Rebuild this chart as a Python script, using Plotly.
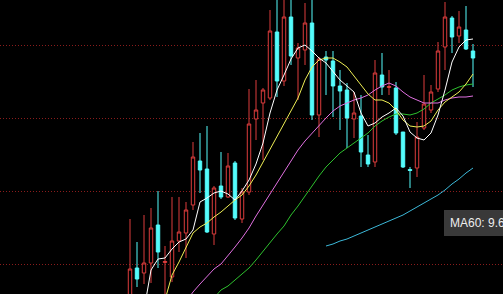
import plotly.graph_objects as go

# ---- data ----
idx = list(range(50))

open_ = [8.64, 8.96, 8.91, 9.01, 9.39, 9.015, 8.87, 9.23, 9.31, 9.59,
         10.03, 9.95, 9.30, 9.78, 9.67, 10.01, 9.45, 9.72, 10.45, 10.61,
         10.66, 11.32, 10.83, 11.47, 11.06, 11.14, 11.41, 10.49, 11.07, 11.03,
         10.78, 10.74, 10.45, 10.48, 10.09, 10.02, 10.89, 10.765, 10.76, 10.32,
         9.945, 9.96, 10.36, 10.54, 10.75, 11.17, 11.46, 11.28, 11.34, 11.13]
high = [9.45, 9.22, 9.49, 9.56, 9.73, 9.18, 9.67, 9.67, 9.62, 10.22,
        10.31, 10.38, 9.78, 10.12, 10.11, 10.03, 9.76, 10.75, 10.84, 10.76,
        11.54, 11.69, 11.69, 11.69, 11.21, 11.61, 11.67, 11.07, 11.13, 11.13,
        10.94, 10.81, 10.72, 10.69, 10.29, 11.04, 11.11, 10.94, 10.82, 10.32,
        9.97, 10.42, 10.89, 10.79, 11.22, 11.62, 11.48, 11.53, 11.58, 11.20]
low = [8.58, 8.77, 8.80, 8.81, 8.96, 8.64, 8.82, 9.12, 9.06, 9.54,
       9.71, 9.31, 9.19, 9.65, 9.66, 9.44, 9.41, 9.69, 10.24, 10.04,
       10.64, 10.67, 10.78, 10.99, 10.64, 10.99, 10.44, 10.27, 10.69, 10.47,
       10.34, 10.16, 10.26, 9.97, 9.97, 9.97, 10.69, 10.69, 10.29, 9.96,
       9.76, 9.87, 10.34, 10.51, 10.72, 10.94, 11.11, 11.21, 11.14, 10.77]
close = [8.95, 8.85, 9.01, 9.36, 9.12, 9.025, 9.23, 9.32, 9.54, 10.07,
         9.94, 9.32, 9.76, 9.67, 9.98, 9.46, 9.72, 10.40, 10.54, 10.74,
         11.33, 10.83, 11.47, 11.08, 11.16, 11.41, 10.49, 11.05, 11.04, 10.78,
         10.73, 10.46, 10.51, 10.12, 10.00, 10.91, 10.77, 10.775, 10.31, 9.97,
         9.935, 10.27, 10.60, 10.72, 11.13, 11.47, 11.27, 11.37, 11.15, 11.06]

ma5 = [None, None, 8.54, 8.94, 9.05, 9.06, 9.15, 9.22, 9.25, 9.34,
       9.62, 9.66, 9.71, 9.73, 9.70, 9.64, 9.73, 9.84, 10.00, 10.21,
       10.51, 10.74, 10.89, 11.05, 11.16, 11.19, 11.13, 11.06, 11.01, 10.92,
       10.84, 10.78, 10.72, 10.51, 10.38, 10.41, 10.47, 10.51, 10.56, 10.48,
       10.32, 10.26, 10.24, 10.31, 10.49, 10.74, 11.02, 11.17, 11.24, 11.25]
ma10 = [None, None, None, None, None, 8.64, 8.89, 9.02, 9.17, 9.31,
        9.37, 9.41, 9.47, 9.52, 9.58, 9.64, 9.69, 9.78, 9.89, 10.02,
        10.14, 10.27, 10.41, 10.54, 10.66, 10.84, 10.97, 11.04, 11.06, 11.06,
        11.02, 10.97, 10.88, 10.78, 10.70, 10.64, 10.64, 10.61, 10.54, 10.44,
        10.38, 10.37, 10.38, 10.43, 10.54, 10.62, 10.67, 10.72, 10.80, 10.90]
ma20 = [None, None, None, None, None, None, None, None, 8.62, 8.72,
        8.80, 8.88, 8.95, 9.00, 9.08, 9.17, 9.26, 9.36, 9.48, 9.59,
        9.69, 9.81, 9.92, 10.02, 10.14, 10.23, 10.31, 10.39, 10.46, 10.53,
        10.58, 10.61, 10.64, 10.66, 10.69, 10.74, 10.78, 10.81, 10.78, 10.72,
        10.67, 10.64, 10.61, 10.61, 10.61, 10.64, 10.66, 10.67, 10.67, 10.68]
ma30 = [None, None, None, None, None, None, None, None, None, None,
        None, None, 8.66, 8.74, 8.78, 8.84, 8.90, 8.96, 9.04, 9.13,
        9.21, 9.30, 9.38, 9.49, 9.58, 9.68, 9.79, 9.88, 9.97, 10.04,
        10.11, 10.16, 10.21, 10.26, 10.31, 10.38, 10.43, 10.47, 10.50, 10.50,
        10.49, 10.51, 10.55, 10.61, 10.65, 10.69, 10.74, 10.77, 10.79, 10.80]
ma60 = [None, None, None, None, None, None, None, None, None, None,
        None, None, None, None, None, None, None, None, None, None,
        None, None, None, None, None, None, None, None, 9.18, 9.20,
        9.23, 9.25, 9.28, 9.31, 9.34, 9.37, 9.40, 9.43, 9.46, 9.49,
        9.53, 9.57, 9.61, 9.65, 9.69, 9.74, 9.80, 9.85, 9.91, 9.96]

grid_levels = [9.00, 9.73, 10.46, 11.19]
tooltip_text = "MA60: 9.65"

# ---- styling ----
UP = "#dc3c3c"
DOWN = "#54fcfc"

fig = go.Figure()
fig.add_trace(go.Candlestick(
    x=idx, open=open_, high=high, low=low, close=close,
    increasing=dict(line=dict(color=UP, width=1), fillcolor="#000000"),
    decreasing=dict(line=dict(color=DOWN, width=1), fillcolor=DOWN),
    whiskerwidth=0, hoverinfo="skip", showlegend=False,
))

for vals, col in [(ma60, "#3cb8d8"), (ma30, "#2ec02e"), (ma20, "#e070e0"),
                  (ma10, "#eeee55"), (ma5, "#ffffff")]:
    fig.add_trace(go.Scatter(x=idx, y=vals, mode="lines",
                             line=dict(color=col, width=1),
                             hoverinfo="skip", showlegend=False,
                             connectgaps=False))

fig.add_annotation(
    xref="paper", yref="paper", x=444 / 503, y=1 - 223 / 294,
    xanchor="left", yanchor="middle", showarrow=False,
    text=tooltip_text, align="left",
    font=dict(family="Liberation Sans, Arial, sans-serif", size=12, color="#eeeeee"),
    bgcolor="rgba(60,60,60,0.95)", bordercolor="rgba(60,60,60,0.95)",
    borderwidth=1, borderpad=5,
)

fig.update_layout(
    width=503, height=294,
    margin=dict(l=0, r=0, t=0, b=0, pad=0),
    paper_bgcolor="#000000", plot_bgcolor="#000000",
    showlegend=False,
    xaxis=dict(range=[-130 / 7, 373 / 7], showgrid=False, zeroline=False,
               showticklabels=False, showline=False, ticks="",
               rangeslider=dict(visible=False), fixedrange=True),
    yaxis=dict(range=[8.70, 11.64], tickvals=grid_levels, showgrid=True,
               gridcolor="#8a1c1c", griddash="1px,2px", gridwidth=1,
               zeroline=False, showticklabels=False, showline=False, ticks="",
               fixedrange=True),
)

fig.write_html("out.html", config={"displayModeBar": False})
